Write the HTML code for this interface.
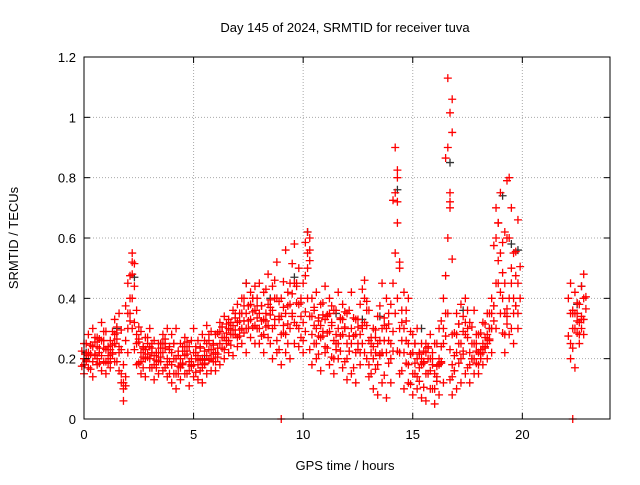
<!DOCTYPE html>
<html><head><meta charset="utf-8"><style>
body{margin:0;background:#fff}
svg text{font-family:"Liberation Sans",sans-serif;font-size:13px;fill:#000}
</style></head><body>
<svg id="chart" width="640" height="480" viewBox="0 0 640 480" xmlns="http://www.w3.org/2000/svg">
<rect width="640" height="480" fill="#fff"/>
<text x="345" y="32" text-anchor="middle">Day 145 of 2024, SRMTID for receiver tuva</text>
<text x="345" y="470" text-anchor="middle">GPS time / hours</text>
<text transform="translate(18,238) rotate(-90)" text-anchor="middle">SRMTID / TECUs</text>
<g id="grid"></g><g id="marks"></g><g id="axes"></g>
</svg>
<script>
const xTicks=[0,5,10,15,20];
const yTicks=[0,0.2,0.4,0.6,0.8,1,1.2];
const yTickLabels=["0","0.2","0.4","0.6","0.8","1","1.2"];
const times=[0,0.2,0.4,0.6,0.8,1,1.2,1.4,1.6,1.8,2,2.2,2.4,2.6,2.8,3,3.2,3.4,3.6,3.8,4,4.2,4.4,4.6,4.8,5,5.2,5.4,5.6,5.8,6,6.2,6.4,6.6,6.8,7,7.2,7.4,7.6,7.8,8,8.2,8.4,8.6,8.8,9,9.2,9.4,9.6,9.8,10,10.2,10.4,10.6,10.8,11,11.2,11.4,11.6,11.8,12,12.2,12.4,12.6,12.8,13,13.2,13.4,13.6,13.8,14,14.2,14.4,14.6,14.8,15,15.2,15.4,15.6,15.8,16,16.2,16.4,16.6,16.8,17,17.2,17.4,17.6,17.8,18,18.2,18.4,18.6,18.8,19,19.2,19.4,19.6,19.8,22.2,22.4,22.6,22.8];
const redA=[.20,.22,.19,.24,.21,.23,.20,.25,.22,.18,.30,.40,.28,.22,.20,.24,.21,.19,.22,.20,.18,.20,.17,.21,.19,.22,.18,.20,.21,.23,.22,.25,.27,.30,.28,.32,.30,.35,.33,.36,.35,.33,.38,.30,.40,.28,.35,.30,.45,.38,.32,.55,.28,.30,.27,.33,.29,.26,.30,.28,.25,.30,.22,.28,.40,.26,.20,.25,.30,.22,.25,.55,.30,.22,.25,.15,.20,.18,.15,.20,.15,.20,.25,.60,.18,.22,.25,.28,.22,.25,.22,.25,.28,.30,.45,.55,.35,.40,.35,.45,.35,.30,.32,.40];
const redB=[.15,.17,.14,.18,.16,.15,.17,.19,.16,.06,.22,.30,.18,.15,.14,.17,.13,.15,.16,.14,.12,.10,.13,.15,.11,.14,.13,.12,.15,.16,.16,.18,.20,.22,.21,.24,.25,.22,.27,.25,.25,.22,.27,.20,.22,.18,.22,.20,.25,.24,.22,.40,.18,.20,.16,.22,.18,.15,.20,.17,.13,.15,.12,.18,.22,.14,.10,.08,.12,.07,.12,.35,.15,.10,.12,.08,.10,.07,.06,.10,.05,.08,.12,.35,.08,.10,.12,.15,.12,.15,.15,.18,.20,.22,.30,.35,.22,.28,.25,.30,.20,.17,.25,.28];
const redC=[.25,.28,.30,.27,.32,.29,.26,.33,.35,.12,.45,.55,.36,.29,.27,.30,.26,.25,.28,.30,.28,.30,.25,.27,.24,.30,.26,.28,.31,.29,.28,.32,.34,.33,.36,.38,.40,.45,.42,.44,.45,.42,.48,.44,.52,.40,.56,.45,.58,.50,.45,.62,.40,.42,.38,.44,.40,.36,.42,.38,.35,.42,.33,.38,.46,.36,.30,.34,.45,.40,.38,.90,.50,.42,.40,.28,.30,.25,.22,.28,.25,.30,.40,1.13,.28,.35,.38,.40,.32,.36,.28,.32,.35,.40,.70,.75,.45,.80,.55,.66,.45,.42,.38,.48];
const redD=[.18,.21,.24,.20,.26,.19,.23,.28,.24,.10,.35,.48,.25,.19,.23,.20,.18,.22,.25,.18,.22,.15,.20,.24,.16,.18,.21,.17,.25,.20,.19,.29,.23,.26,.31,.27,.35,.30,.38,.31,.30,.28,.31,.36,.26,.34,.28,.38,.32,.30,.26,.50,.34,.25,.31,.24,.35,.20,.25,.33,.20,.25,.28,.22,.32,.18,.24,.18,.22,.30,.20,.75,.22,.30,.18,.22,.14,.20,.25,.16,.10,.18,.30,.90,.14,.28,.20,.32,.18,.20,.18,.22,.25,.35,.60,.42,.28,.60,.40,.35,.25,.35,.28,.33];
const extraT=[9.0,22.3,16.8,16.8,16.7,14.3,14.3,16.8,19.2,10.3,19.3,2.2,14.4,16.7];
const extraV=[0,0,1.06,0.95,0.72,0.80,0.72,0.53,0.62,0.60,0.79,0.52,0.52,0.70];
const blackT=[0.1,1.5,2.3,3.5,5.5,7.4,8.5,9.6,10.2,11.5,12.7,13.5,14.3,15.4,16.7,17.3,18.5,19.1,19.5,19.8,22.5,22.7];
const blackV=[.22,.30,.47,.25,.20,.45,.40,.47,.62,.35,.33,.34,.76,.30,.85,.36,.30,.74,.58,.56,.38,.44];
const X0=84,X1=610,Y0=419,Y1=57;
const xs=t=>X0+(t/24)*(X1-X0);
const ys=v=>Y0-(v/1.2)*(Y0-Y1);
const NS="http://www.w3.org/2000/svg";
function mk(tag,attrs,parent){const e=document.createElementNS(NS,tag);for(const k in attrs)e.setAttribute(k,attrs[k]);parent.appendChild(e);return e;}
const grid=document.getElementById('grid'),marks=document.getElementById('marks'),axes=document.getElementById('axes');
xTicks.forEach(t=>{
 const g=mk('line',{x1:xs(t),x2:xs(t),y1:Y0,y2:Y1,stroke:'#aaa','stroke-dasharray':'1,2'},grid);
 
 
 mk('line',{x1:xs(t),x2:xs(t),y1:Y0,y2:Y0-6,stroke:'#000'},axes);
 mk('line',{x1:xs(t),x2:xs(t),y1:Y1,y2:Y1+6,stroke:'#000'},axes);
 const l=mk('text',{x:xs(t),y:Y0+20,'text-anchor':'middle'},axes);l.textContent=t;
 
 
});
yTicks.forEach((v,i)=>{
 const g=mk('line',{x1:X0,x2:X1,y1:ys(v),y2:ys(v),stroke:'#aaa','stroke-dasharray':'1,2'},grid);
 
 
 mk('line',{x1:X0,x2:X0+6,y1:ys(v),y2:ys(v),stroke:'#000'},axes);
 mk('line',{x1:X1,x2:X1-6,y1:ys(v),y2:ys(v),stroke:'#000'},axes);
 const l=mk('text',{x:X0-8,y:ys(v)+5,'text-anchor':'end'},axes);l.textContent=yTickLabels[i];
 
 
});
const frame=mk('rect',{x:X0,y:Y1,width:X1-X0,height:Y0-Y1,fill:'none',stroke:'#000'},axes);


function plus(t,v,col,name){
 const x=xs(t),y=ys(v);
 const p=mk('path',{d:`M${x-4},${y}H${x+4}M${x},${y-4}V${y+4}`,stroke:col,'stroke-width':1.3,fill:'none'},marks);
 
 
}
blackT.forEach((t,i)=>plus(t,blackV[i],'#333','black-point'));
[redA,redB,redC,redD].forEach(s=>s.forEach((v,i)=>plus(times[i],v,'#f00','red-point')));
[redA,redC].forEach(s=>s.forEach((v,i)=>plus(times[i]+0.1,(v+redD[i])/2,'#f00','red-point')));
[redB,redC].forEach(s=>s.forEach((v,i)=>plus(times[i]-0.1,(v+redA[i])/2,'#f00','red-point')));
extraT.forEach((t,i)=>plus(t,extraV[i],'#f00','red-point'));
</script>
</body></html>
